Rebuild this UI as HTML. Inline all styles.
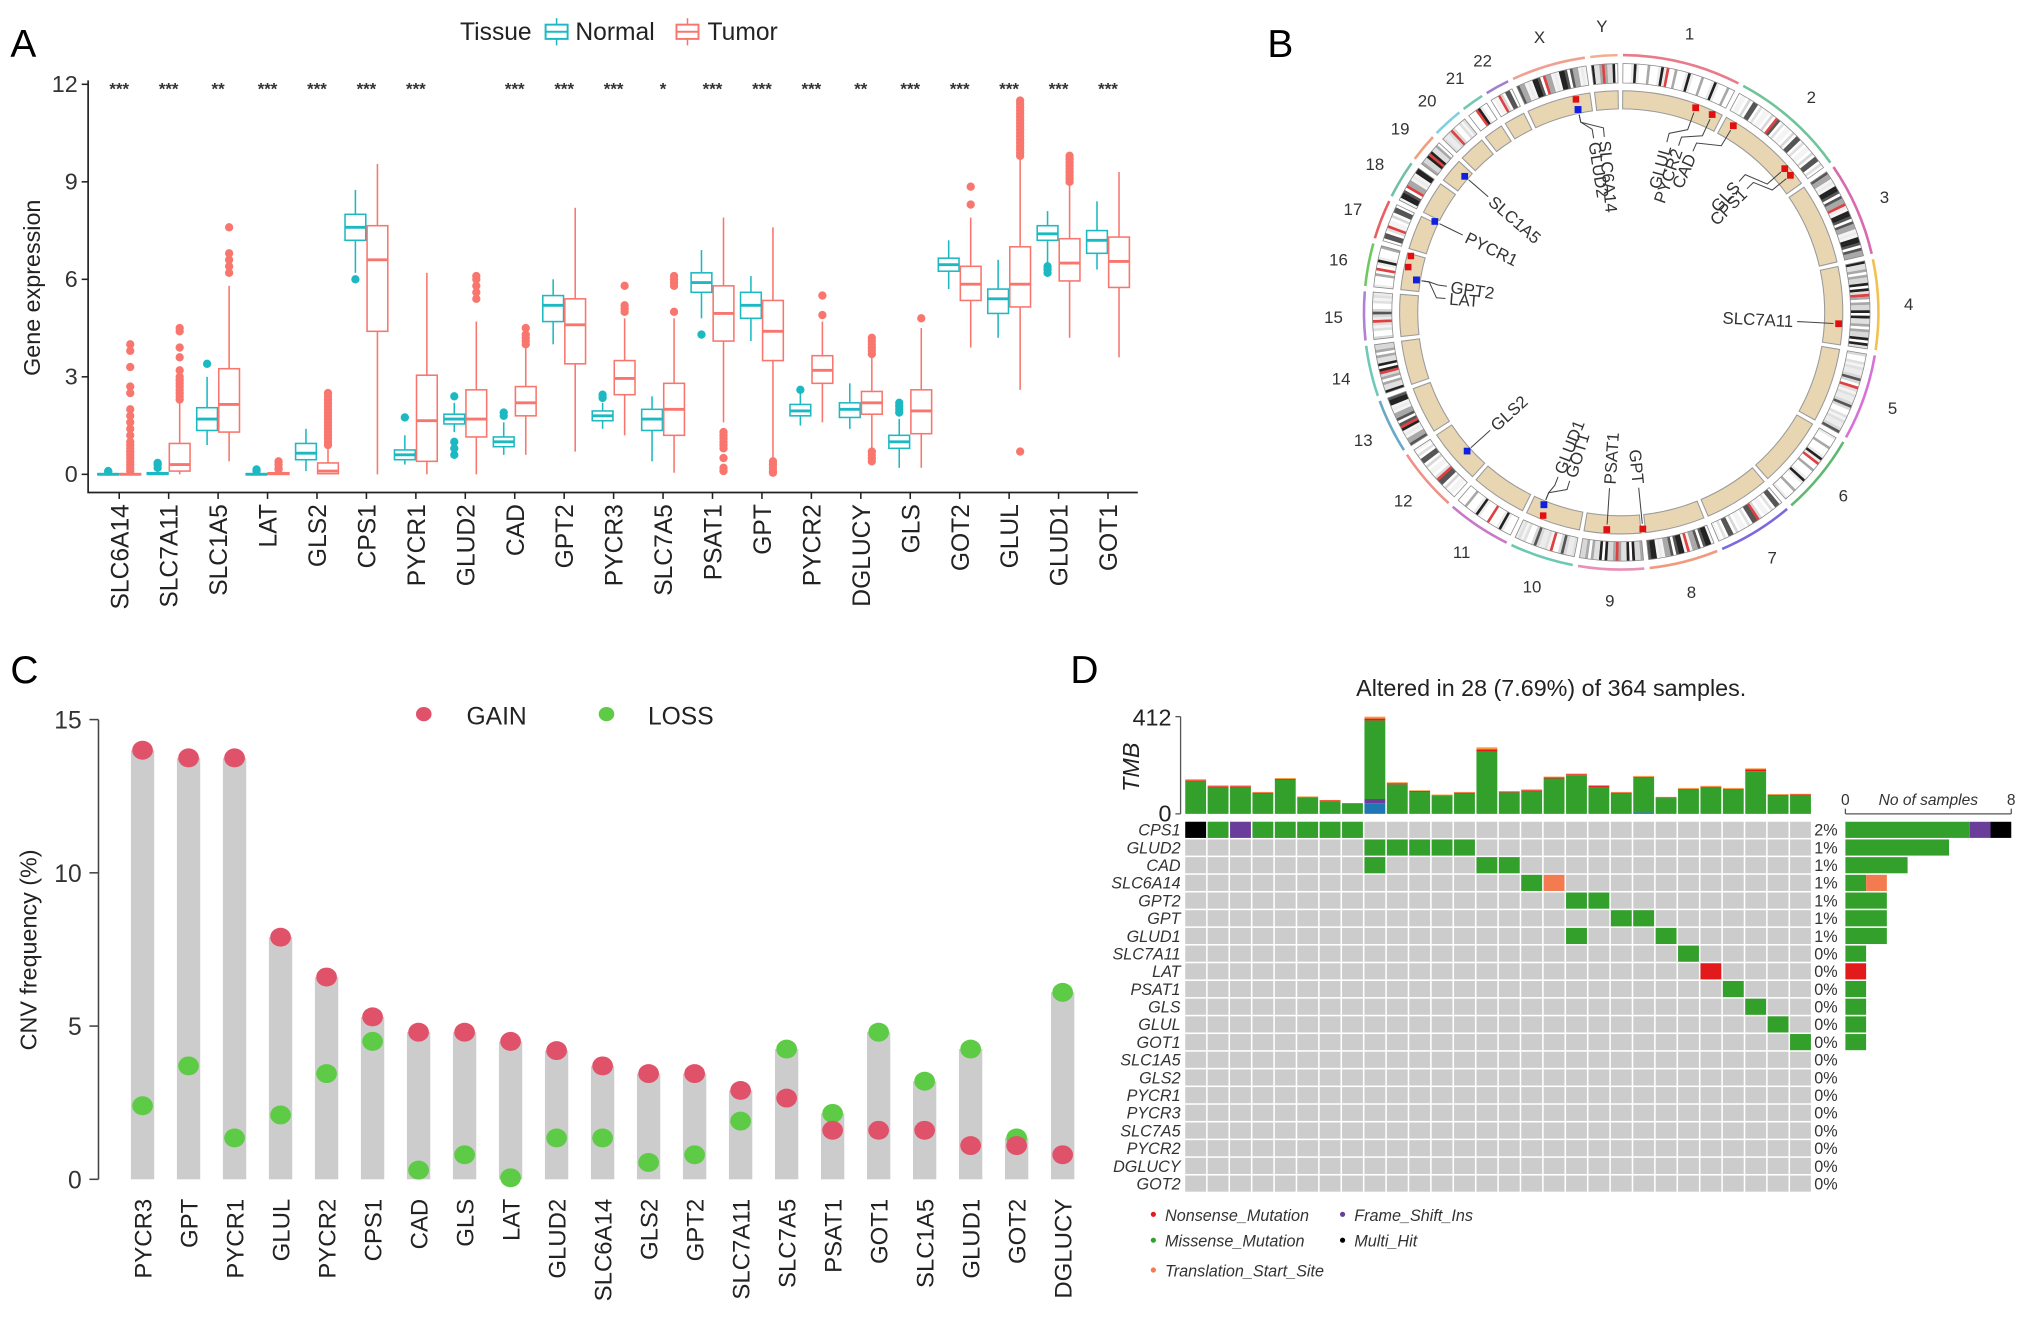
<!DOCTYPE html>
<html><head><meta charset="utf-8"><title>Figure</title>
<style>
html,body{margin:0;padding:0;background:#fff;}
svg{display:block;font-family:"Liberation Sans",Arial,sans-serif;}
</style></head>
<body>
<svg id="fig" xmlns="http://www.w3.org/2000/svg" width="2032" height="1318" viewBox="0 0 1568 1017">
<text x="8" y="44" font-size="30">A</text>
<text x="978" y="44" font-size="30">B</text>
<text x="8" y="527" font-size="30">C</text>
<text x="826" y="527" font-size="30">D</text>
</svg>
<script>
const NS='http://www.w3.org/2000/svg';
const svg=document.getElementById('fig');
function mk(tag,attrs,parent){const e=document.createElementNS(NS,tag);for(const k in attrs)e.setAttribute(k,attrs[k]);(parent||svg).appendChild(e);return e;}
function txt(s,attrs,parent){const e=mk('text',attrs,parent);e.textContent=s;return e;}

/* ================= PANEL A DATA ================= */
const genesA=['SLC6A14','SLC7A11','SLC1A5','LAT','GLS2','CPS1','PYCR1','GLUD2','CAD','GPT2','PYCR3','SLC7A5','PSAT1','GPT','PYCR2','DGLUCY','GLS','GOT2','GLUL','GLUD1','GOT1'];
const sigA=['***','***','**','***','***','***','***','','***','***','***','*','***','***','***','**','***','***','***','***','***'];
const normalStats=[[0,0,0,0.02,0.05],[0,0,0.02,0.05,0.1],[0.9,1.35,1.7,2.05,3.0],[0,0,0,0.02,0.05],[0.1,0.45,0.65,0.95,1.4],[6.2,7.2,7.6,8.0,8.75],[0.3,0.45,0.6,0.75,1.2],[1.3,1.55,1.7,1.85,2.2],[0.6,0.85,1.0,1.15,1.6],[4.0,4.7,5.2,5.5,6.0],[1.4,1.65,1.8,1.95,2.2],[0.4,1.35,1.7,2.0,2.4],[4.8,5.6,5.9,6.2,6.9],[4.1,4.8,5.2,5.6,6.1],[1.5,1.8,1.95,2.15,2.5],[1.4,1.75,2.0,2.2,2.8],[0.2,0.8,1.0,1.2,1.7],[5.7,6.25,6.45,6.65,7.2],[4.2,4.95,5.4,5.7,6.6],[6.5,7.2,7.4,7.65,8.1],[6.3,6.8,7.2,7.5,8.4]];
const tumorStats=[[0,0,0,0.02,0.05],[0,0.1,0.3,0.95,2.2],[0.4,1.3,2.15,3.25,5.8],[0,0,0.02,0.05,0.1],[0,0.02,0.1,0.35,0.8],[0,4.4,6.6,7.65,9.55],[0,0.4,1.65,3.05,6.2],[0,1.15,1.7,2.6,4.7],[0.6,1.8,2.2,2.7,3.9],[0.7,3.4,4.6,5.4,8.2],[1.2,2.45,2.95,3.5,4.8],[0.05,1.2,2.0,2.8,4.8],[1.6,4.1,4.95,5.8,7.9],[0.5,3.5,4.4,5.35,7.6],[1.6,2.8,3.2,3.65,4.7],[0.7,1.85,2.2,2.55,3.6],[0.2,1.25,1.95,2.6,4.5],[3.9,5.35,5.85,6.4,7.9],[2.6,5.15,5.85,7.0,9.7],[4.2,5.95,6.5,7.25,8.9],[3.6,5.75,6.55,7.3,9.3]];
const normalOut=[[0.08,0.1],[0.2,0.3,0.35],[3.4],[0.1,0.15],[],[6.0],[1.75],[0.6,0.8,1.0,2.4],[1.8,1.9],[],[2.35,2.45],[],[4.3],[],[2.6],[],[1.9,2.0,2.1,2.2],[],[],[6.2,6.3,6.4],[]];
const tumorOut=[[0.1,0.2,0.3,0.4,0.5,0.6,0.7,0.8,0.9,1.0,1.2,1.4,1.6,1.8,2.0,2.5,2.7,3.3,3.8,4.0],[2.3,2.4,2.5,2.6,2.7,2.8,2.9,3.0,3.2,3.6,3.9,4.4,4.5],[6.2,6.4,6.6,6.8,7.6],[0.15,0.2,0.3,0.4],[0.9,1.0,1.1,1.2,1.3,1.4,1.5,1.6,1.7,1.8,1.9,2.0,2.1,2.2,2.3,2.4,2.5],[],[],[5.4,5.6,5.8,6.0,6.1],[4.0,4.1,4.2,4.3,4.5],[],[5.0,5.1,5.2,5.8],[5.0,5.8,5.9,6.0,6.1],[0.1,0.2,0.5,0.8,0.9,1.0,1.1,1.2,1.3],[0.05,0.1,0.2,0.3,0.4],[4.9,5.5],[0.4,0.5,0.6,0.7,3.7,3.8,3.9,4.0,4.1,4.2],[4.8],[8.3,8.85],[0.7,9.8,9.9,10,10.1,10.2,10.3,10.4,10.5,10.6,10.7,10.8,10.9,11.0,11.1,11.2,11.3,11.4,11.5],[9.0,9.1,9.2,9.3,9.4,9.5,9.6,9.7,9.8],[]];
const yTicksA=[0,3,6,9,12];

/* ================= PANEL C DATA ================= */
const genesC=['PYCR3','GPT','PYCR1','GLUL','PYCR2','CPS1','CAD','GLS','LAT','GLUD2','SLC6A14','GLS2','GPT2','SLC7A11','SLC7A5','PSAT1','GOT1','SLC1A5','GLUD1','GOT2','DGLUCY'];
const gainC=[14.0,13.75,13.75,7.9,6.6,5.3,4.8,4.8,4.5,4.2,3.7,3.45,3.45,2.9,2.65,1.6,1.6,1.6,1.1,1.1,0.8];
const lossC=[2.4,3.7,1.35,2.1,3.45,4.5,0.3,0.8,0.05,1.35,1.35,0.55,0.8,1.9,4.25,2.15,4.8,3.2,4.25,1.35,6.1];
const yTicksC=[0,5,10,15];

/* ================= PANEL D DATA ================= */
const genesD=['CPS1','GLUD2','CAD','SLC6A14','GPT2','GPT','GLUD1','SLC7A11','LAT','PSAT1','GLS','GLUL','GOT1','SLC1A5','GLS2','PYCR1','PYCR3','SLC7A5','PYCR2','DGLUCY','GOT2'];
const pctD=['2%','1%','1%','1%','1%','1%','1%','0%','0%','0%','0%','0%','0%','0%','0%','0%','0%','0%','0%','0%','0%'];
const mutCells=[[0,0,'M'],[0,1,'S'],[0,2,'F'],[0,3,'S'],[0,4,'S'],[0,5,'S'],[0,6,'S'],[0,7,'S'],
[1,8,'S'],[1,9,'S'],[1,10,'S'],[1,11,'S'],[1,12,'S'],[2,8,'S'],[2,13,'S'],[2,14,'S'],
[3,15,'S'],[3,16,'T'],[4,17,'S'],[4,18,'S'],[5,19,'S'],[5,20,'S'],[6,17,'S'],[6,21,'S'],
[7,22,'S'],[8,23,'N'],[9,24,'S'],[10,25,'S'],[11,26,'S'],[12,27,'S']];
const tmbTotal=[147,121,121,93,152,74,59,46,412,134,100,82,93,282,97,104,158,171,122,93,161,72,110,119,110,193,84,85];
const tmbNons=[6,5,5,4,4,3,3,2,8,5,4,3,4,10,3,5,4,4,4,5,4,3,4,4,4,8,3,5];
const tmbTSS=[5,4,4,3,4,3,2,2,8,4,3,3,3,8,3,4,4,3,4,3,4,2,4,4,4,4,3,3];
const tmbFS=[0,0,0,0,0,0,0,0,18,0,0,0,0,0,0,0,0,0,0,0,0,0,0,0,0,0,0,0];
const tmbBlue=[0,0,0,0,0,0,0,0,45,0,0,0,0,0,0,0,0,0,0,0,6,0,0,0,0,0,0,0];
const cntMiss=[6,5,3,1,2,2,2,1,0,1,1,1,1,0,0,0,0,0,0,0,0];
const cntFS=[1,0,0,0,0,0,0,0,0,0,0,0,0,0,0,0,0,0,0,0,0];
const cntMulti=[1,0,0,0,0,0,0,0,0,0,0,0,0,0,0,0,0,0,0,0,0];
const cntTSS=[0,0,0,1,0,0,0,0,0,0,0,0,0,0,0,0,0,0,0,0,0];
const cntNons=[0,0,0,0,0,0,0,0,1,0,0,0,0,0,0,0,0,0,0,0,0];

/* ================= PANEL B DATA ================= */
const chrNames=['1','2','3','4','5','6','7','8','9','10','11','12','13','14','15','16','17','18','19','20','21','22','X','Y'];
const chrLens=[249,243,198,190,181,171,159,145,138,134,135,133,114,107,102,90,83,80,59,64,47,51,156,57];
const chrColors=['#e87a8a','#6fc49a','#d86ab0','#f2c14e','#d672d6','#5fb870','#7a6ae0','#f09a80','#e890b8','#6cc8b0','#c878c8','#f09088','#6aa8c8','#70c8b8','#b080d8','#70c860','#e86060','#70c0a8','#f0a080','#80d0e0','#70c8b0','#a080d0','#f0a090','#f0b090'];
const cnvGenes=['GLUD2','SLC6A14','GLUL','PYCR2','CAD','GLS','CPS1','SLC7A11','GPT','PSAT1','GOT1','GLUD1','GLS2','GPT2','LAT','PYCR1','SLC1A5'];
const cnvAngle=[-12,-12,20,24.7,31,48.7,51,93,174.3,183.8,201.9,201.9,228,279,279,296,311];
const cnvLabelAngle=[-9,-5.5,15,19,24,42,45.5,93,174.3,183.8,197,201,228,278.5,274.5,296,311];
const cnvType=['LOSS','LOSS','GAIN','GAIN','GAIN','GAIN','GAIN','GAIN','GAIN','GAIN','LOSS','LOSS','LOSS','LOSS','LOSS','LOSS','LOSS'];
const extraGainAngle=[-12,282,285,201];

/* ================= PANEL A DRAW ================= */
(function(){
 const g=mk('g',{});
 
 
 const x0=68,x1=878,yb=380;
 const yA=v=>366-v*25.08;
 const cx=i=>92+i*38.15;
 const NC='#1DB9C3',TC='#F8766D';
 const ax=mk('path',{d:`M${x0} 62 L${x0} ${yb} L${x1} ${yb}`,fill:'none',stroke:'#222','stroke-width':1.3},g);
 
 
 yTicksA.forEach(v=>{
  mk('line',{x1:x0-5,x2:x0,y1:yA(v),y2:yA(v),stroke:'#222','stroke-width':1.2},g);
  const t=txt(String(v),{x:x0-8,y:yA(v)+6,'font-size':18,'text-anchor':'end',fill:'#333'},g);
  
  
 });
 const yt=txt('Gene expression',{x:0,y:0,'font-size':18,'text-anchor':'middle',fill:'#222',transform:'translate(31,222) rotate(-90)'},g);
 
 
 const lg=mk('g',{},g);
 
 
 txt('Tissue',{x:355,y:31,'font-size':19,fill:'#222'},lg);
 function legIcon(x,c){mk('rect',{x:x,y:19,width:17,height:11,fill:'#fff',stroke:c,'stroke-width':1.5},lg);mk('line',{x1:x,x2:x+17,y1:24.5,y2:24.5,stroke:c,'stroke-width':1.5},lg);mk('line',{x1:x+8.5,x2:x+8.5,y1:14,y2:19,stroke:c,'stroke-width':1.2},lg);mk('line',{x1:x+8.5,x2:x+8.5,y1:30,y2:35,stroke:c,'stroke-width':1.2},lg);}
 legIcon(421,NC);
 const ln=txt('Normal',{x:444,y:31,'font-size':19,fill:'#222'},lg);
 
 
 legIcon(522,TC);
 const lt=txt('Tumor',{x:546,y:31,'font-size':19,fill:'#222'},lg);
 
 
 function box(c,st,outs,col,name){
  const bg=mk('g',{},g);
  
  
  const w=16,l=c-w/2;
  mk('line',{x1:c,x2:c,y1:yA(st[0]),y2:yA(st[1]),stroke:col,'stroke-width':1.2},bg);
  mk('line',{x1:c,x2:c,y1:yA(st[3]),y2:yA(st[4]),stroke:col,'stroke-width':1.2},bg);
  mk('rect',{x:l,y:yA(st[3]),width:w,height:Math.max(yA(st[1])-yA(st[3]),0.8),fill:'#fff',stroke:col,'stroke-width':1.2},bg);
  mk('line',{x1:l,x2:l+w,y1:yA(st[2]),y2:yA(st[2]),stroke:col,'stroke-width':2.2},bg);
  outs.forEach(v=>mk('circle',{cx:c,cy:yA(v),r:3.2,fill:col},bg));
 }
 genesA.forEach((gn,i)=>{
  const c=cx(i);
  box(c-8.5,normalStats[i],normalOut[i],NC,'box-normal-'+gn.toLowerCase());
  box(c+8.5,tumorStats[i],tumorOut[i],TC,'box-tumor-'+gn.toLowerCase());
  mk('line',{x1:c,x2:c,y1:yb,y2:yb+5,stroke:'#222','stroke-width':1.2},g);
  const t=txt(gn,{x:0,y:0,'font-size':19,'text-anchor':'end',fill:'#222',transform:`translate(${c+7},${yb+9}) rotate(-90)`},g);
  
  
  if(sigA[i]){const s=txt(sigA[i],{x:c,y:73,'font-size':13,'font-weight':'bold','text-anchor':'middle',fill:'#333'},g);
   
   }
 });
})();

/* ================= PANEL B DRAW ================= */
(function(){
 const g=mk('g',{});
 
 
 const CX=1251,CY=241;
 const P=(r,a)=>[CX+r*Math.sin(a*Math.PI/180),CY-r*Math.cos(a*Math.PI/180)];
 function sector(r1,r2,a1,a2){const la=(a2-a1)>180?1:0;const p1=P(r2,a1),p2=P(r2,a2),p3=P(r1,a2),p4=P(r1,a1);
  return `M${p1[0]} ${p1[1]} A${r2} ${r2} 0 ${la} 1 ${p2[0]} ${p2[1]} L${p3[0]} ${p3[1]} A${r1} ${r1} 0 ${la} 0 ${p4[0]} ${p4[1]} Z`;}
 function arc(r,a1,a2){const p1=P(r,a1),p2=P(r,a2);return `M${p1[0]} ${p1[1]} A${r} ${r} 0 ${(a2-a1)>180?1:0} 1 ${p2[0]} ${p2[1]}`;}
 const total=chrLens.reduce((a,b)=>a+b,0),gap=1.2,span=360-gap*chrLens.length;
 const pal=['#ffffff','#f4f4f4','#d8d8d8','#ffffff','#a8a8a8','#ececec','#555555','#e0e0e0','#ffffff','#222222'];
 let a=0.4;
 chrNames.forEach((nm,ci)=>{
  const w=chrLens[ci]/total*span,a1=a,a2=a+w;
  const cg=mk('g',{},g);
  
  
  const nb=Math.max(4,Math.round(chrLens[ci]/6));
  for(let b=0;b<nb;b++){
   const b1=a1+w*b/nb,b2=a1+w*(b+1)/nb;
   let col=pal[(b*7+ci*3+(b*b)%5)%10];
   if(b===Math.floor(nb*0.4))col='#e04040';
   mk('path',{d:sector(177,192,b1,b2+0.05),fill:col},cg);
  }
  mk('path',{d:sector(177,192,a1,a2),fill:'none',stroke:'#888','stroke-width':0.6},cg);
  mk('path',{d:sector(157,171,a1,a2),fill:'#E8D5B2',stroke:'#999','stroke-width':0.8},cg);
  mk('path',{d:arc(198.5,a1,a2),fill:'none',stroke:chrColors[ci],'stroke-width':2},cg);
  const lp=P(222,(a1+a2)/2);
  const t=txt(nm,{x:lp[0],y:lp[1]+5,'font-size':13,'text-anchor':'middle',fill:'#333'},cg);
  
  
  a=a2+gap;
 });
 extraGainAngle.forEach(ang=>{const p=P(168,ang);mk('rect',{x:p[0]-2.5,y:p[1]-2.5,width:5,height:5,fill:'#e01010'},g);});
 cnvGenes.forEach((gn,i)=>{
  const ang=cnvAngle[i],la=cnvLabelAngle[i];
  const r=cnvType[i]==='GAIN'?168:160;
  const p=P(r,ang);
  const m=mk('rect',{x:p[0]-2.6,y:p[1]-2.6,width:5.2,height:5.2,fill:cnvType[i]==='GAIN'?'#e01010':'#1020e0'},g);
  
  
  const q1=P(r-4,ang),q2=P(150,ang),q3=P(143,la),q4=P(136,la);
  mk('path',{d:`M${q1[0]} ${q1[1]} L${q2[0]} ${q2[1]} L${q3[0]} ${q3[1]} L${q4[0]} ${q4[1]}`,fill:'none',stroke:'#444','stroke-width':0.8},g);
  const phi=la-90;const tp=P(133,la);
  let rot,anchor;
  if(Math.cos(phi*Math.PI/180)>=0.02){rot=phi;anchor='end';}else{rot=phi+180;anchor='start';}
  const t=txt(gn,{x:tp[0],y:tp[1]+4.5,'font-size':13,'text-anchor':anchor,fill:'#333',transform:`rotate(${rot},${tp[0]},${tp[1]})`},g);
  
  
 });
})();

/* ================= PANEL C DRAW ================= */
(function(){
 const g=mk('g',{});
 
 
 const yC=v=>910-v*23.65;
 const xC=i=>110+i*35.5;
 const ax=mk('line',{x1:76,x2:76,y1:yC(15),y2:yC(0),stroke:'#444','stroke-width':1.2},g);
 
 
 yTicksC.forEach(v=>{
  mk('line',{x1:69,x2:76,y1:yC(v),y2:yC(v),stroke:'#444','stroke-width':1.2},g);
  const t=txt(String(v),{x:63,y:yC(v)+7,'font-size':19,'text-anchor':'end',fill:'#333'},g);
  
  
 });
 const yt=txt('CNV frequency (%)',{x:0,y:0,'font-size':18,'text-anchor':'middle',fill:'#222',transform:'translate(28,733) rotate(-90)'},g);
 
 
 genesC.forEach((gn,i)=>{
  const x=xC(i),top=Math.max(gainC[i],lossC[i]);
  const b=mk('rect',{x:x-9,y:yC(top),width:18,height:yC(0)-yC(top),fill:'#CCCCCC'},g);
  
  
  const l=mk('ellipse',{cx:x,cy:yC(lossC[i]),rx:8,ry:7.3,fill:'#5DCB46'},g);
  
  
  const gd=mk('ellipse',{cx:x,cy:yC(gainC[i]),rx:8,ry:7.3,fill:'#E0516A'},g);
  
  
  const t=txt(gn,{x:0,y:0,'font-size':18.5,'text-anchor':'end',fill:'#222',transform:`translate(${x+7},${925}) rotate(-90)`},g);
  
  
 });
 const lg=mk('g',{},g);
 
 
 mk('ellipse',{cx:327,cy:551,rx:6,ry:5.5,fill:'#E0516A'},lg);
 txt('GAIN',{x:360,y:559,'font-size':19,fill:'#222'},lg);
 mk('ellipse',{cx:468,cy:551,rx:6,ry:5.5,fill:'#5DCB46'},lg);
 txt('LOSS',{x:500,y:559,'font-size':19,fill:'#222'},lg);
})();

/* ================= PANEL D DRAW ================= */
(function(){
 const g=mk('g',{});
 
 
 const COL={S:'#33A02C',N:'#E31A1C',T:'#F47A50',F:'#6A3D9A',M:'#000000'};
 const gx=914,gw=484,nc=28,cw=gw/nc,gy=633.5,rh=13.65;
 const t0=txt('Altered in 28 (7.69%) of 364 samples.',{x:1197,y:537,'font-size':18,'text-anchor':'middle',fill:'#222'},g);
 
 
 genesD.forEach((gn,r)=>{
  for(let c=0;c<nc;c++)mk('rect',{x:gx+c*cw+0.6,y:gy+r*rh+0.6,width:cw-1.2,height:rh-1.2,fill:'#CCCCCC'},g);
  const t=txt(gn,{x:911,y:gy+r*rh+rh/2+4.5,'font-size':12.5,'font-style':'italic','text-anchor':'end',fill:'#333'},g);
  
  
  const p=txt(pctD[r],{x:1400,y:gy+r*rh+rh/2+4.5,'font-size':12.5,fill:'#333'},g);
  
  
 });
 mutCells.forEach(([r,c,tp])=>{
  const e=mk('rect',{x:gx+c*cw+0.6,y:gy+r*rh+0.6,width:cw-1.2,height:rh-1.2,fill:COL[tp]},g);
  
  
 });
 const yT=v=>628-v*(75/412);
 mk('line',{x1:911,x2:911,y1:yT(412),y2:yT(0),stroke:'#555','stroke-width':1},g);
 mk('line',{x1:907,x2:911,y1:yT(412),y2:yT(412),stroke:'#555','stroke-width':1},g);
 mk('line',{x1:907,x2:911,y1:yT(0),y2:yT(0),stroke:'#555','stroke-width':1},g);
 txt('412',{x:904,y:yT(412)+7,'font-size':18,'text-anchor':'end',fill:'#222'},g);
 txt('0',{x:904,y:yT(0)+6,'font-size':18,'text-anchor':'end',fill:'#222'},g);
 const tmb=txt('TMB',{x:0,y:0,'font-size':18,'font-style':'italic','text-anchor':'middle',fill:'#222',transform:'translate(879,592) rotate(-90)'},g);
 
 
 tmbTotal.forEach((tot,c)=>{
  const bg=mk('g',{},g);
  
  
  const x=gx+c*cw+0.6,w=cw-1.2;
  const segs=[[tmbBlue[c],'#1F78B4'],[tmbFS[c],'#6A3D9A'],[tot-tmbBlue[c]-tmbFS[c]-tmbNons[c]-tmbTSS[c],'#33A02C'],[tmbNons[c],'#E31A1C'],[tmbTSS[c],'#F89A40']];
  let acc=0;
  segs.forEach(([v,col])=>{if(v<=0)return;mk('rect',{x:x,y:yT(acc+v),width:w,height:yT(acc)-yT(acc+v),fill:col},bg);acc+=v;});
 });
 const xR=v=>1424+v*16;
 mk('line',{x1:xR(0),x2:xR(8),y1:628,y2:628,stroke:'#555','stroke-width':1},g);
 mk('line',{x1:xR(0),x2:xR(0),y1:624,y2:628,stroke:'#555','stroke-width':1},g);
 mk('line',{x1:xR(8),x2:xR(8),y1:624,y2:628,stroke:'#555','stroke-width':1},g);
 txt('0',{x:xR(0),y:621,'font-size':12,'text-anchor':'middle',fill:'#333'},g);
 txt('8',{x:xR(8),y:621,'font-size':12,'text-anchor':'middle',fill:'#333'},g);
 const ns=txt('No of samples',{x:1488,y:621,'font-size':12,'font-style':'italic','text-anchor':'middle',fill:'#333'},g);
 
 
 genesD.forEach((gn,r)=>{
  const bg=mk('g',{},g);
  
  
  const y=gy+r*rh+0.6,h=rh-1.2;
  const segs=[[cntMiss[r],'#33A02C'],[cntNons[r],'#E31A1C'],[cntTSS[r],'#F47A50'],[cntFS[r],'#6A3D9A'],[cntMulti[r],'#000000']];
  let acc=0;
  segs.forEach(([v,col])=>{if(v<=0)return;mk('rect',{x:xR(acc),y:y,width:xR(acc+v)-xR(acc),height:h,fill:col},bg);acc+=v;});
 });
 const lg=mk('g',{},g);
 
 
 [[890,938,'#E31A1C','Nonsense_Mutation'],[1036,938,'#6A3D9A','Frame_Shift_Ins'],[890,958,'#33A02C','Missense_Mutation'],[1036,958,'#000','Multi_Hit'],[890,981,'#F47A50','Translation_Start_Site']].forEach(([x,y,c,s])=>{
  mk('circle',{cx:x,cy:y-1,r:2,fill:c},lg);
  const t=txt(s,{x:x+9,y:y+4,'font-size':12.5,'font-style':'italic',fill:'#333'},lg);
  
  
 });
})();
</script>
</body></html>
